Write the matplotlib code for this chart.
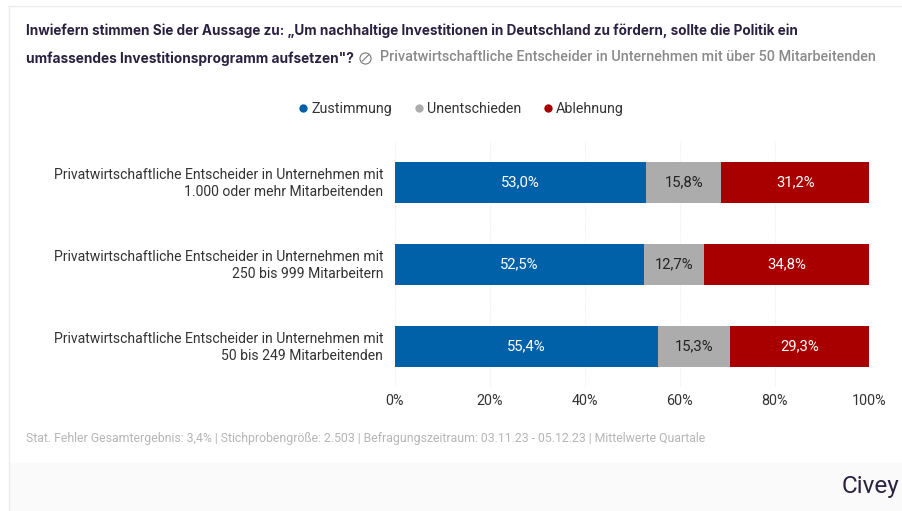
import matplotlib
matplotlib.use("Agg")
import matplotlib.pyplot as plt
from matplotlib.patches import Rectangle
from matplotlib.lines import Line2D
from matplotlib.transforms import ScaledTranslation
import numpy as np

W, H = 903, 511

categories = [
    "Privatwirtschaftliche Entscheider in Unternehmen mit\n1.000 oder mehr Mitarbeitenden",
    "Privatwirtschaftliche Entscheider in Unternehmen mit\n250 bis 999 Mitarbeitern",
    "Privatwirtschaftliche Entscheider in Unternehmen mit\n50 bis 249 Mitarbeitenden",
]
zustimmung = [53.0, 52.5, 55.4]
unentschieden = [15.8, 12.7, 15.3]
ablehnung = [31.2, 34.8, 29.3]
series_names = ["Zustimmung", "Unentschieden", "Ablehnung"]
colors = ["#0060a8", "#acacac", "#a80000"]
label_colors = ["white", "#222222", "white"]
ticks = [0, 20, 40, 60, 80, 100]

title_1 = "Inwiefern stimmen Sie der Aussage zu: „Um nachhaltige Investitionen in Deutschland zu fördern, sollte die Politik ein"
title_2 = "umfassendes Investitionsprogramm aufsetzen\"?"
subtitle = "Privatwirtschaftliche Entscheider in Unternehmen mit über 50 Mitarbeitenden"
footnote = "Stat. Fehler Gesamtergebnis: 3,4% | Stichprobengröße: 2.503 | Befragungszeitraum: 03.11.23 - 05.12.23 | Mittelwerte Quartale"

plt.rcParams["font.family"] = "Roboto"

fig = plt.figure(figsize=(W / 100, H / 100), dpi=100)

# page in pixel coordinates
bg = fig.add_axes([0, 0, 1, 1])
bg.set_xlim(0, W)
bg.set_ylim(H, 0)
bg.axis("off")
bg.add_patch(Rectangle((10, 463), W - 10, H - 463, color="#fafafa", lw=0))
bg.add_line(Line2D([9.5, W], [6.5, 6.5], color="#ececec", lw=1))
bg.add_line(Line2D([9.5, 9.5], [6.5, H], color="#ececec", lw=1))

ax = fig.add_axes([395 / W, 1 - 387 / H, 474.5 / W, 246 / H])
ax.set_xlim(0, 100)
ax.set_ylim(2.5, -0.5)
ax.set_axisbelow(True)
ax.grid(axis="x", color="#eeeeee", lw=0.8, ls=(0, (1, 1)))
for s in ax.spines.values():
    s.set_visible(False)

y = np.arange(len(categories))
left = np.zeros(3)
for vals, col, lcol in zip([zustimmung, unentschieden, ablehnung], colors, label_colors):
    vals = np.array(vals)
    ax.barh(y, vals, left=left, height=0.5, color=col, lw=0)
    for yi, l, v in zip(y, left, vals):
        ax.text(l + v / 2, yi, f"{v:.1f}%".replace(".", ","), ha="center", va="center",
                color=lcol, fontsize=10.7)
    left = left + vals

ax.set_yticks(y)
ax.set_yticklabels(categories, fontsize=10.1, color="#333333", linespacing=1.25)
ax.tick_params(axis="y", length=0, pad=8.6)
up = ScaledTranslation(0, 1.5 / 100, fig.dpi_scale_trans)
for lab in ax.get_yticklabels():
    lab.set_transform(lab.get_transform() + up)
ax.set_xticks(ticks)
ax.set_xticklabels([f"{t}%" for t in ticks], fontsize=10.4, color="#333333")
ax.tick_params(axis="x", length=0, pad=5)

# title and subtitle
bg.text(26, 31, title_1, family="Inter", weight="bold", fontsize=9.75, color="#2b2140", va="center")
bg.text(26, 58.5, title_2, family="Inter", weight="bold", fontsize=9.87, color="#2b2140", va="center")
bg.add_line(Line2D([365.5], [58], marker="o", ms=8, mfc="none", mec="#777777", mew=0.8))
bg.add_line(Line2D([362.5, 368.5], [61, 55], color="#777777", lw=0.8))
bg.text(380, 57, subtitle, weight="medium", fontsize=10.4, color="#8a8a8a", va="center")

# legend
legend_x = [303, 419, 548]
for x, name, col in zip(legend_x, series_names, colors):
    bg.add_line(Line2D([x], [108], marker="o", ms=6, color=col, mew=0))
    bg.text(x + 8, 113, name, fontsize=10.3, color="#333333", va="baseline")

bg.text(26, 438.5, footnote, fontsize=8.8, color="#b5b5b5", va="center")
bg.text(842, 487, "Civey", fontsize=17.5, color="#2b2140", va="center")

fig.savefig("out.png", dpi=100)
